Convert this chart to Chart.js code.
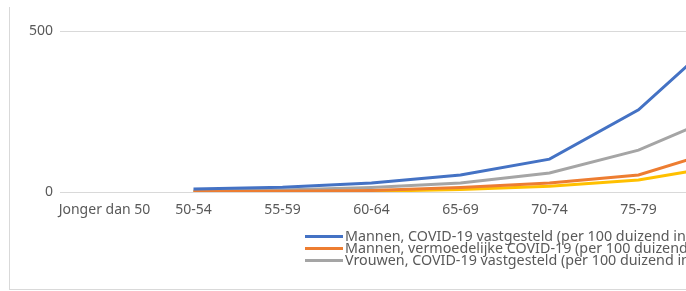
<!DOCTYPE html>
<html>
<head>
<meta charset="utf-8">
<script src="https://cdn.jsdelivr.net/npm/chart.js@4"></script>
<style>
  html, body { margin: 0; padding: 0; background: #fff; overflow: hidden; }
  #wrap { position: relative; width: 686px; height: 291px; overflow: hidden; }
  #frame { position: absolute; left: 9px; top: 7px; width: 800px; height: 282px;
    border-left: 1px solid #d9d9d9; border-bottom: 1px solid #d9d9d9; }
  #chartBox { position: absolute; left: 0; top: 0; width: 782px; height: 291px; }
  #legend { position: absolute; left: 305px; top: 230px; font-family: 'Noto Sans', sans-serif;
    font-size: 14.3px; line-height: 12px; color: #595959; white-space: nowrap; }
  #legend div { height: 12px; }
  #legend span.swatch { display: inline-block; width: 38px; height: 3px; vertical-align: middle;
    margin-right: 2px; position: relative; top: -1px; }
</style>
</head>
<body>
<div id="wrap">
  <div id="frame"></div>
  <div id="chartBox"><canvas id="chart" width="782" height="291"></canvas></div>
  <div id="legend"></div>
</div>
<script>
const categories = ['Jonger dan 50', '50-54', '55-59', '60-64', '65-69', '70-74', '75-79', '80-84'];
const mannenVastgesteld = [null, 9, 15, 28, 53, 102, 255, 505];
const mannenVermoedelijk = [null, 1, 2, 5, 14, 28, 53, 138];
const vrouwenVastgesteld = [null, 3, 6, 14, 28, 59, 130, 248];
const vrouwenVermoedelijk = [null, 0.5, 1, 2, 8, 18, 37, 84];
const yTicks = [0, 500];

const seriesLabels = [
  'Mannen, COVID-19 vastgesteld (per 100 duizend inwoners)',
  'Mannen, vermoedelijke COVID-19 (per 100 duizend inwoners)',
  'Vrouwen, COVID-19 vastgesteld (per 100 duizend inwoners)',
  'Vrouwen, vermoedelijke COVID-19 (per 100 duizend inwoners)'
];
const seriesColors = ['#4472C4', '#ED7D31', '#A5A5A5', '#FFC000'];
const seriesData = [mannenVastgesteld, mannenVermoedelijk, vrouwenVastgesteld, vrouwenVermoedelijk];

const datasets = seriesData.map((data, i) => ({
  label: seriesLabels[i],
  data,
  borderColor: seriesColors[i],
  backgroundColor: seriesColors[i],
  borderWidth: 3,
  pointRadius: 0,
  tension: 0,
  fill: false
}));

const font = { family: "'Noto Sans', sans-serif", size: 14 };

new Chart(document.getElementById('chart'), {
  type: 'line',
  data: { labels: categories, datasets },
  options: {
    responsive: false,
    animation: false,
    layout: { padding: { top: 31, right: 10, left: 0, bottom: 0 } },
    plugins: { legend: { display: false }, tooltip: { enabled: false } },
    scales: {
      x: {
        offset: true,
        grid: { display: false, drawTicks: false },
        border: { display: false },
        ticks: { color: '#595959', font, padding: 10, maxRotation: 0, autoSkip: false },
        afterFit: (axis) => { axis.height = 99; }
      },
      y: {
        min: 0,
        max: 500,
        afterBuildTicks: (axis) => { axis.ticks = yTicks.map((v) => ({ value: v })); },
        grid: { color: '#d9d9d9', lineWidth: 1, drawTicks: false },
        border: { display: false },
        ticks: { color: '#595959', font, padding: 7 },
        afterFit: (axis) => { axis.width = 60; }
      }
    }
  }
});

// legend like the original: only the first three entries fit
const legend = document.getElementById('legend');
datasets.slice(0, 3).forEach((ds) => {
  const row = document.createElement('div');
  const swatch = document.createElement('span');
  swatch.className = 'swatch';
  swatch.style.background = ds.borderColor;
  row.appendChild(swatch);
  row.appendChild(document.createTextNode(ds.label));
  legend.appendChild(row);
});
</script>
</body>
</html>
